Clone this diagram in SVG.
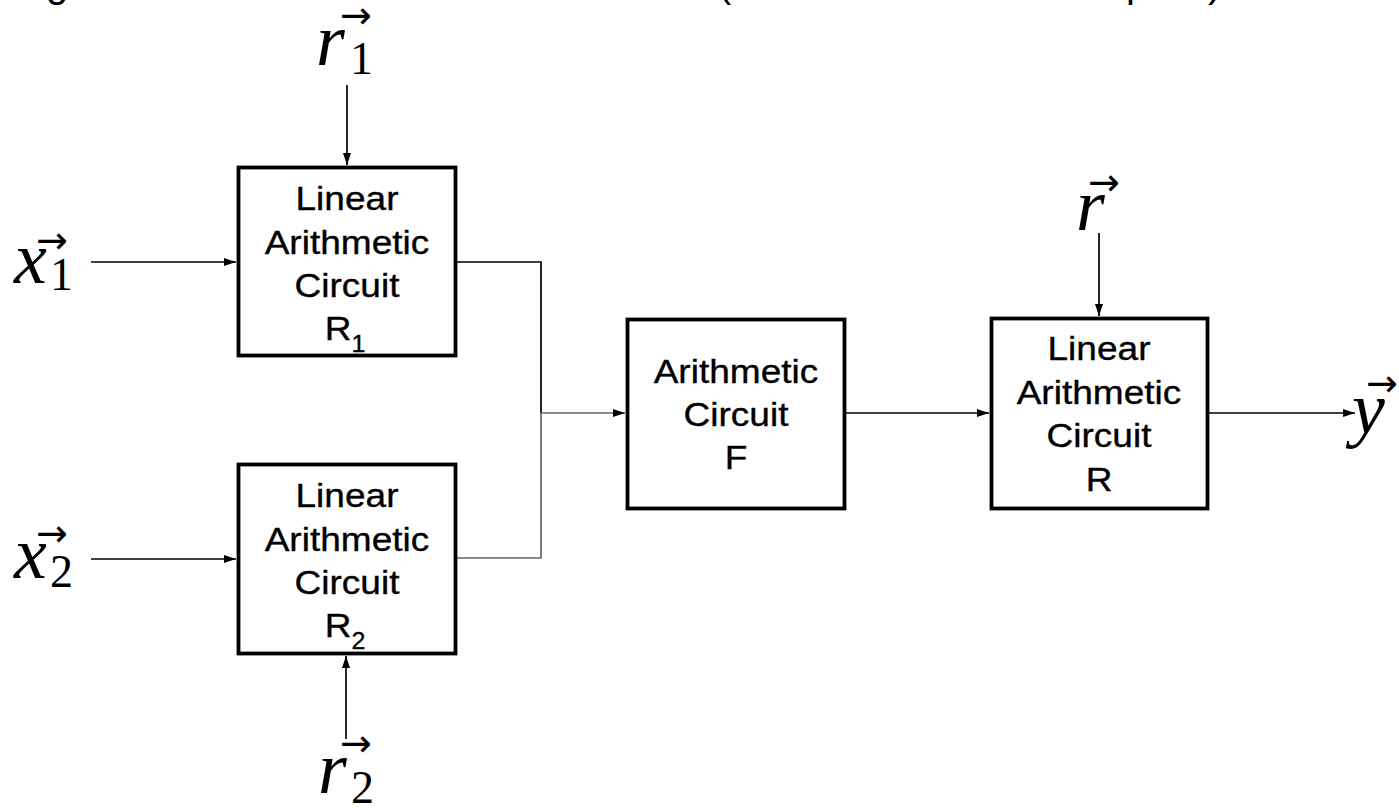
<svg xmlns="http://www.w3.org/2000/svg" width="1399" height="810" viewBox="0 0 1399 810">
<defs>
<style>
.box{fill:#fff;stroke:#000;stroke-width:3.8}
.lbl{font-family:"Liberation Sans",Arial,sans-serif;font-size:34px;fill:#000;stroke:#000;stroke-width:0.35;text-anchor:middle}
.sub{font-size:23px}
.conn{fill:none;stroke:#000;stroke-width:1.7}
.gray{stroke:#666}
.mv{font-family:"Liberation Serif","Times New Roman",serif;font-style:italic;font-size:74px;fill:#000}
.md{font-family:"Liberation Serif","Times New Roman",serif;font-size:46px;fill:#000}
.hat{font-family:"DejaVu Sans",sans-serif;font-size:38px;fill:#000}
.title{font-family:"Liberation Sans",Arial,sans-serif;font-size:40px;fill:#000}
</style>
<marker id="ah" viewBox="0 0 12 8" refX="12" refY="4" markerWidth="12" markerHeight="8" markerUnits="userSpaceOnUse" orient="auto">
<path d="M0,0 L12,4 L0,8 z" fill="#000"/>
</marker>
</defs>
<rect width="1399" height="810" fill="#fff"/>

<g id="title-fragments">
<text class="title" x="46" y="-3">g</text>
<text class="title" x="718" y="-3">(</text>
<text class="title" x="1126" y="-3">p</text>
<text class="title" x="1208" y="-3">)</text>
</g>

<g id="connectors">
<path class="conn" d="M91,262 H236" marker-end="url(#ah)"/>
<path class="conn" d="M347,85 V165" marker-end="url(#ah)"/>
<path class="conn" d="M91,559 H236" marker-end="url(#ah)"/>
<path class="conn" d="M346,739 V656" marker-end="url(#ah)"/>
<path class="conn" d="M457,262 H541 V413"/>
<path class="conn gray" d="M457,558 H541 V413"/>
<path class="conn gray" d="M541,413 H625" marker-end="url(#ah)"/>
<path class="conn" d="M846,413 H989" marker-end="url(#ah)"/>
<path class="conn" d="M1099,233 V316" marker-end="url(#ah)"/>
<path class="conn" d="M1209,413 H1355" marker-end="url(#ah)"/>
</g>

<g id="node-R1">
<rect class="box" x="238.5" y="167.5" width="217" height="188"/>
<text class="lbl" transform="translate(347 0) scale(1.09 1)" x="0" y="210">Linear</text>
<text class="lbl" transform="translate(347 0) scale(1.09 1)" x="0" y="254">Arithmetic</text>
<text class="lbl" transform="translate(347 0) scale(1.09 1)" x="0" y="297">Circuit</text>
<text class="lbl" transform="translate(345 0) scale(1.09 1)" x="0" y="340">R<tspan class="sub" dy="12">1</tspan></text>
</g>

<g id="node-R2">
<rect class="box" x="238.5" y="464.5" width="217" height="189"/>
<text class="lbl" transform="translate(347 0) scale(1.09 1)" x="0" y="507">Linear</text>
<text class="lbl" transform="translate(347 0) scale(1.09 1)" x="0" y="551">Arithmetic</text>
<text class="lbl" transform="translate(347 0) scale(1.09 1)" x="0" y="594">Circuit</text>
<text class="lbl" transform="translate(345 0) scale(1.09 1)" x="0" y="637">R<tspan class="sub" dy="12">2</tspan></text>
</g>

<g id="node-F">
<rect class="box" x="627.5" y="319.5" width="217" height="189"/>
<text class="lbl" transform="translate(736 0) scale(1.09 1)" x="0" y="383">Arithmetic</text>
<text class="lbl" transform="translate(736 0) scale(1.09 1)" x="0" y="426">Circuit</text>
<text class="lbl" transform="translate(736 0) scale(1.09 1)" x="0" y="469">F</text>
</g>

<g id="node-R">
<rect class="box" x="991.5" y="318.5" width="216" height="190"/>
<text class="lbl" transform="translate(1099 0) scale(1.09 1)" x="0" y="360">Linear</text>
<text class="lbl" transform="translate(1099 0) scale(1.09 1)" x="0" y="404">Arithmetic</text>
<text class="lbl" transform="translate(1099 0) scale(1.09 1)" x="0" y="447">Circuit</text>
<text class="lbl" transform="translate(1099 0) scale(1.09 1)" x="0" y="491">R</text>
</g>

<g id="label-r1">
<text class="mv" x="316" y="65">r</text>
<text class="md" x="350" y="74">1</text>
<text class="hat" x="340" y="28">→</text>
</g>
<g id="label-x1">
<text class="mv" x="14" y="283">x</text>
<text class="md" x="50" y="290">1</text>
<text class="hat" x="36" y="253">→</text>
</g>
<g id="label-x2">
<text class="mv" x="14" y="578">x</text>
<text class="md" x="50" y="587">2</text>
<text class="hat" x="36" y="546">→</text>
</g>
<g id="label-r2">
<text class="mv" x="318" y="793">r</text>
<text class="md" x="351" y="803">2</text>
<text class="hat" x="340" y="756">→</text>
</g>
<g id="label-r">
<text class="mv" x="1076" y="230">r</text>
<text class="hat" x="1088" y="195">→</text>
</g>
<g id="label-y">
<text class="mv" x="1352" y="433">y</text>
<text class="hat" x="1366" y="396">→</text>
</g>
</svg>
